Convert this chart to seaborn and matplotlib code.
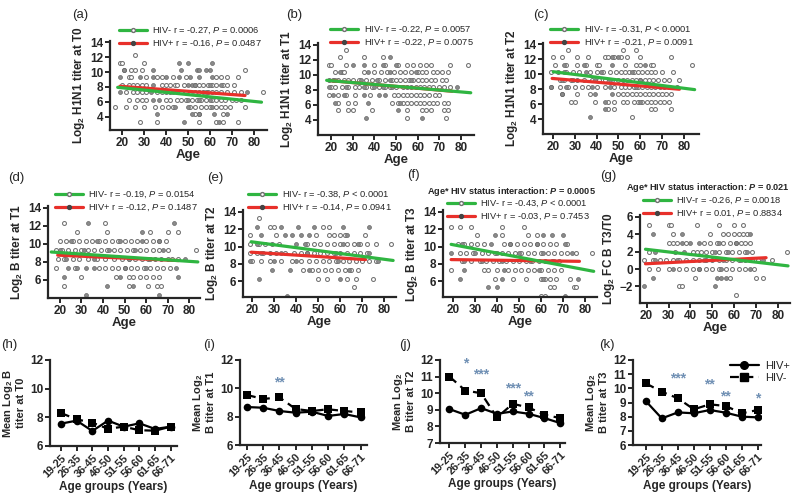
import numpy as np
import pandas as pd
import matplotlib
matplotlib.use("Agg")
import matplotlib.pyplot as plt
import seaborn as sns
from matplotlib.lines import Line2D

# ---------------- data: scatter panels (level -> list of ages) ----------------
a_neg = {12.3: [26], 11.3: [19, 20, 30], 10.3: [21, 24, 26, 29, 76],
         9.3: [23, 24, 31, 36, 38, 43, 49, 63, 65, 68, 73],
         8.3: [20, 23, 25, 27, 29, 31, 38, 40, 42, 44, 45, 48, 53, 55, 57, 59, 61, 63, 66, 68, 71],
         7.3: [22, 25, 27, 29, 31, 36, 38, 40, 42, 45, 47, 49, 51, 53, 55, 57, 59, 61, 63, 65, 68, 71, 74, 84],
         6.3: [23, 27, 29, 31, 40, 42, 45, 47, 49, 52, 54, 56, 58, 61, 63, 65, 67, 70, 72, 74],
         5.3: [17, 22, 26, 30, 35, 38, 41, 43, 51, 53, 56, 58, 60, 63, 65, 67, 69, 76],
         4.3: [53, 55, 66], 3.3: [28, 36, 55, 63, 66, 73]}
a_pos = {11.3: [46, 50, 61], 10.3: [21, 34, 47, 54, 55, 58, 60],
         9.3: [19, 28, 34, 40, 46, 51, 55, 61], 8.3: [34, 50, 52, 53, 60, 65],
         7.3: [19, 33, 43, 58, 77], 6.3: [34, 37, 50, 55, 60], 5.3: [44, 50, 61],
         4.3: [36, 52, 55, 62, 68], 3.3: [48, 64]}

b_neg = {13.3: [27], 12.3: [24, 35, 44],
         11.3: [19, 20, 27, 40, 45, 51, 55, 58, 61, 64, 66, 75, 83],
         10.3: [22, 25, 26, 35, 40, 43, 46, 49, 52, 54, 57, 60, 62, 64, 67, 69, 71, 74],
         9.3: [19, 21, 23, 26, 28, 30, 33, 36, 39, 42, 45, 48, 50, 52, 54, 56, 58, 60, 62, 64, 66, 68, 71, 73],
         8.3: [20, 22, 25, 28, 31, 33, 36, 39, 42, 45, 47, 50, 53, 55, 57, 59, 61, 63, 65, 67, 70, 72, 75],
         7.3: [19, 23, 27, 31, 38, 49, 51, 53, 55, 57, 59, 61, 63, 65, 68, 70],
         6.3: [23, 28, 31, 48, 51, 53, 55, 57, 59, 61, 63, 65, 67, 69, 72, 74],
         5.3: [23, 28, 30, 39, 55, 62, 64, 66, 72, 74], 4.3: [55, 73]}
b_pos = {12.3: [47], 11.3: [30, 35, 44, 50], 10.3: [24, 37, 47, 59],
         9.3: [22, 34, 41, 47, 57], 8.3: [19, 27, 35, 40, 44, 48, 78],
         7.3: [21, 26, 35, 42, 45], 6.3: [22, 37, 52], 5.3: [51], 4.3: [36, 62]}

c_neg = {13.3: [27, 52, 58], 12.3: [20, 24, 31, 36, 44, 45, 48, 51, 54, 60, 74],
         11.3: [21, 26, 31, 35, 40, 41, 53, 58, 60, 65, 66, 84],
         10.3: [19, 22, 26, 29, 32, 37, 40, 43, 46, 49, 51, 53, 55, 57, 59, 61, 63, 65, 67, 70, 75],
         9.3: [23, 25, 28, 31, 34, 38, 41, 44, 47, 50, 52, 54, 56, 58, 60, 62, 64, 66, 68, 71, 73, 78],
         8.3: [19, 23, 27, 30, 33, 36, 40, 44, 48, 51, 53, 55, 57, 59, 61, 63, 65, 67, 69, 71, 73, 77],
         7.3: [24, 31, 37, 50, 52, 54, 56, 58, 60, 62, 64, 66, 68, 70, 72, 74],
         6.3: [28, 30, 39, 45, 48, 52, 54, 57, 59, 61, 63, 65, 67, 69, 71, 73],
         5.3: [45, 48, 65, 67, 74], 4.3: [56]}
c_pos = {12.3: [47, 50], 11.3: [25, 34, 47, 62], 10.3: [25, 35, 42, 56],
         9.3: [24, 29, 39, 46, 60], 8.3: [19, 26, 38, 46, 58], 7.3: [24, 39, 47],
         6.3: [44, 60], 5.3: [44], 4.3: [37]}

d_neg = {12.3: [22, 41], 11.3: [28, 42, 62, 70, 75],
         10.3: [20, 23, 26, 29, 32, 35, 38, 41, 44, 47, 50, 53, 56, 60, 63, 66, 69],
         9.3: [18, 21, 24, 27, 30, 33, 36, 39, 42, 45, 48, 51, 54, 57, 60, 63, 66, 70, 83],
         8.3: [19, 22, 26, 29, 33, 37, 41, 45, 49, 52, 55, 58, 61, 64, 67, 70, 72, 75],
         7.3: [18, 27, 38, 41, 44, 47, 50, 53, 56, 59, 62, 65, 68, 71],
         6.3: [30, 46, 52, 54, 57, 60, 63, 66], 5.3: [22, 52, 61, 65, 67]}
d_pos = {12.3: [33, 73], 11.3: [58], 10.3: [25, 37, 48, 58, 66],
         9.3: [20, 31, 43, 55, 68], 8.3: [23, 36, 52, 62, 78],
         7.3: [24, 28, 32, 36, 50, 60, 74], 6.3: [22, 48, 75], 5.3: [42, 54], 4.3: [32, 66]}

e_neg = {13.3: [23], 12.3: [28, 30, 52, 55], 11.3: [19, 31, 49, 55, 57, 60, 62, 71],
         10.3: [19, 23, 26, 29, 32, 45, 48, 51, 54, 57, 60, 63, 66, 69, 72, 76, 83],
         9.3: [19, 22, 25, 28, 31, 35, 39, 42, 45, 48, 51, 54, 57, 60, 63, 66, 69, 72],
         8.3: [20, 24, 28, 33, 38, 42, 46, 49, 52, 55, 58, 61, 64, 67, 70, 73, 76],
         7.3: [43, 47, 50, 53, 56, 59, 62, 65, 68], 6.3: [50, 54, 63, 67, 75], 5.3: [66]}
e_pos = {12.3: [22, 33, 41, 48, 61, 73], 11.3: [24, 35, 38, 42, 46, 63],
         10.3: [22, 40, 44, 61, 68], 9.3: [24, 33, 45, 58, 73], 8.3: [19, 30, 40, 59, 77],
         7.3: [29, 37, 46, 64], 6.3: [23, 60], 4.3: [36]}

f_neg = {12.3: [19, 23, 28, 42, 52], 11.3: [31, 42, 54, 58],
         10.3: [22, 25, 28, 31, 34, 43, 46, 49, 52, 55, 58, 61, 64, 67, 72],
         9.3: [23, 26, 29, 33, 36, 39, 42, 45, 48, 51, 54, 57, 60, 63, 66, 69, 72, 76, 83],
         8.3: [24, 28, 32, 35, 38, 41, 44, 47, 50, 53, 56, 59, 62, 65, 68],
         7.3: [19, 34, 36, 40, 45, 48, 51, 54, 57, 60, 63, 66, 69],
         6.3: [39, 47, 53, 60, 62, 64, 67, 73], 5.3: [64, 66, 75, 76], 4.3: [60, 62]}
f_pos = {11.3: [39, 61, 65, 70], 10.3: [24, 37, 46, 58, 71], 9.3: [19, 30, 40, 50, 61, 74],
         8.3: [25, 33, 42, 55, 66], 7.3: [25, 43, 59], 6.3: [23, 42, 61, 77],
         5.3: [36, 40], 4.3: [71]}

g_neg = {5: [21, 30, 31, 43, 53, 60, 64], 4: [32, 49, 55, 57, 60, 62, 64, 66],
         3: [30, 32, 34, 38, 46, 49, 52, 55, 58, 61, 63, 65, 67],
         2: [21, 33, 41, 43, 45, 47, 50, 53, 56, 59, 62, 65, 68, 84],
         1: [19, 23, 26, 29, 32, 35, 38, 41, 44, 47, 50, 53, 56, 59, 62, 65, 68, 71, 77],
         0: [21, 25, 30, 35, 38, 41, 44, 47, 50, 53, 56, 59, 62, 65, 69],
         -1: [42, 58, 70, 73], -2: [35, 36], -3: [61]}
g_pos = {4: [23, 36, 67], 3: [36, 40, 44, 53, 61], 2: [24, 37, 51, 57, 66],
         1: [24, 34, 46, 55, 63, 73], 0: [32, 44, 54, 67], -1: [23, 52, 54, 56], -2: [19, 51]}

# regression line endpoints (age, value)
fit_neg_age = {"a": [18, 83.5], "b": [18, 84.5], "c": [20, 85], "d": [16, 84], "e": [19.5, 84], "f": [19, 84], "g": [19.5, 84.5]}
fit_neg_val = {"a": [7.95, 5.95], "b": [9.25, 7.6], "c": [10.35, 7.95], "d": [9.1, 8.0], "e": [10.55, 8.4], "f": [10.25, 7.15], "g": [2.27, 0.36]}
fit_pos_age = {"a": [19, 76], "b": [20, 76], "c": [19.5, 78], "d": [19, 75], "e": [19.5, 71.5], "f": [19, 77.5], "g": [19.5, 74.5]}
fit_pos_val = {"a": [8.1, 6.85], "b": [9.2, 7.8], "c": [9.45, 8.0], "d": [8.75, 8.15], "e": [9.35, 8.5], "f": [8.5, 8.3], "g": [0.6, 1.3]}

legend_neg = {"a": "HIV- r = -0.27, $P$ = 0.0006", "b": "HIV- r = -0.22, $P$ = 0.0057",
              "c": "HIV- r = -0.31, $P$ < 0.0001", "d": "HIV- r = -0.19, $P$ = 0.0154",
              "e": "HIV- r = -0.38, $P$ < 0.0001", "f": "HIV- r = -0.43, $P$ < 0.0001",
              "g": "HIV-r = -0.26, $P$ = 0.0018"}
legend_pos = {"a": "HIV+ r = -0.16, $P$ = 0.0487", "b": "HIV+ r = -0.22, $P$ = 0.0075",
              "c": "HIV+ r = -0.21, $P$ = 0.0091", "d": "HIV+ r = -0.12, $P$ = 0.1487",
              "e": "HIV+ r = -0.14, $P$ = 0.0941", "f": "HIV+ r = -0.03, $P$ = 0.7453",
              "g": "HIV+ r = 0.01, $P$ = 0.8834"}
interaction = {"f": r"Age* HIV status interaction: $\mathbfit{P}$ = 0.0005",
               "g": r"Age* HIV status interaction: $\mathbfit{P}$ = 0.021"}
ylabels_top = {"a": r"Log$_{\mathbf{2}}$ H1N1 titer at T0", "b": r"Log$_{\mathbf{2}}$ H1N1 titer at T1",
               "c": r"Log$_{\mathbf{2}}$ H1N1 titer at T2", "d": r"Log$_{\mathbf{2}}$ B titer at T1",
               "e": r"Log$_{\mathbf{2}}$ B titer at T2", "f": r"Log$_{\mathbf{2}}$ B titer at T3",
               "g": r"Log$_{\mathbf{2}}$ FC B T3/T0"}

# ---------------- data: age-group panels ----------------
age_groups = ["19-25", "26-35", "36-45", "46-50", "51-55", "56-60", "61-65", "66-71"]
h_pos = [7.56, 7.77, 7.05, 7.77, 7.35, 7.58, 7.19, 7.35]
h_neg = [8.3, 7.86, 7.63, 7.2, 7.35, 7.1, 7.07, 7.35]
i_pos = [8.68, 8.63, 8.4, 8.28, 8.35, 8.05, 8.19, 7.95]
i_neg = [9.53, 9.25, 9.36, 8.54, 8.4, 8.52, 8.4, 8.3]
j_pos = [9.04, 8.7, 9.1, 8.76, 8.9, 8.76, 8.5, 8.2]
j_neg = [11.0, 10.16, 10.0, 8.54, 9.36, 9.14, 8.7, 8.5]
k_pos = [9.1, 7.88, 8.3, 8.24, 8.47, 8.28, 8.0, 7.95]
k_neg = [10.35, 9.76, 9.3, 8.52, 8.87, 8.75, 8.24, 8.47]
stars = {"i": [(2, 10.4, "**")],
         "j": [(1, 11.8, "*"), (2, 11.1, "***"), (4, 10.3, "***"), (5, 9.8, "**")],
         "k": [(2, 10.7, "***"), (4, 10.25, "**"), (5, 9.45, "**"), (7, 9.3, "*")]}

# ---------------- style ----------------
sns.set_style("ticks")
plt.rcParams["font.family"] = ["Liberation Sans", "DejaVu Sans"]
plt.rcParams["mathtext.fontset"] = "custom"
plt.rcParams["mathtext.rm"] = "Liberation Sans"
plt.rcParams["mathtext.it"] = "Liberation Sans:italic"
plt.rcParams["mathtext.bf"] = "Liberation Sans:bold"
plt.rcParams["mathtext.bfit"] = "Liberation Sans:italic:bold"

GREEN = "#2fb541"
RED = "#e8302a"
STAR = "#7090b4"
W, H = 800, 495
fig = plt.figure(figsize=(8, 4.95), dpi=100)


def add_ax(l, r, t, b):
    return fig.add_axes([l / W, 1 - b / H, (r - l) / W, (b - t) / H])


def style_ax(ax):
    for s in ["left", "bottom"]:
        ax.spines[s].set_linewidth(1.6)
    sns.despine(ax=ax)
    ax.tick_params(width=1.4, length=3.5, labelsize=8.5, pad=1.5)
    for lab in ax.get_xticklabels() + ax.get_yticklabels():
        lab.set_fontweight("bold")


def long(d, grp):
    return pd.DataFrame([(a, lvl, grp) for lvl, ages in d.items() for a in ages],
                        columns=["age", "titer", "grp"])


scatter_specs = {
    "a": (a_neg, a_pos, (110, 267, 41, 130), (14.5, 86), (2.2, 14.2), [4, 6, 8, 10, 12, 14], (80, 15), (119, 26)),
    "b": (b_neg, b_pos, (318, 474, 43, 135), (14, 86), (2.0, 14.2), [4, 6, 8, 10, 12, 14], (294, 15), (330, 25)),
    "c": (c_neg, c_pos, (543, 699, 43, 134), (15.3, 87), (2.0, 14.2), [4, 6, 8, 10, 12, 14], (541, 15), (550, 25)),
    "d": (d_neg, d_pos, (48, 200, 206, 298), (14.5, 85), (4.0, 14.2), [6, 8, 10, 12, 14], (16, 178), (55, 190)),
    "e": (e_neg, e_pos, (243, 396, 210, 297), (15.8, 85.3), (4.2, 14.2), [6, 8, 10, 12, 14], (215, 178), (248, 190)),
    "f": (f_neg, f_pos, (443, 597, 210, 297), (15.3, 85.5), (4.2, 14.2), [6, 8, 10, 12, 14], (413, 175), (447, 199)),
    "g": (g_neg, g_pos, (640, 790, 215, 303), (17, 85.4), (-3.9, 6.2), [-2, 0, 2, 4, 6], (608, 176), (643, 196)),
}
title_pos = {"f": (511, 191), "g": (708, 188)}

for key, (neg, pos, box, xl, yl, yt, plab, legpos) in scatter_specs.items():
    ax = add_ax(*box)
    dneg = long(neg, "HIV-")
    dpos = long(pos, "HIV+")
    sns.scatterplot(data=dneg, x="age", y="titer", ax=ax, marker="o", s=8,
                    facecolor="white", edgecolor="#707070", linewidth=0.75, zorder=2)
    sns.scatterplot(data=dpos, x="age", y="titer", ax=ax, marker="o", s=8,
                    color="#8a8a8a", edgecolor="#666666", linewidth=0.5, zorder=2)
    fpos = pd.DataFrame({"age": fit_pos_age[key], "v": fit_pos_val[key]})
    fneg = pd.DataFrame({"age": fit_neg_age[key], "v": fit_neg_val[key]})
    sns.lineplot(data=fpos, x="age", y="v", ax=ax, color=RED, lw=2.3, zorder=3)
    sns.lineplot(data=fneg, x="age", y="v", ax=ax, color=GREEN, lw=2.3, zorder=4)
    ax.set_xlim(*xl)
    ax.set_ylim(*yl)
    ax.set_xticks([20, 30, 40, 50, 60, 70, 80])
    ax.set_yticks(yt)
    ax.set_xlabel("Age", fontsize=9.5, fontweight="bold", labelpad=0)
    ax.set_ylabel(ylabels_top[key], fontsize=8.5, fontweight="bold", labelpad=2)
    style_ax(ax)
    fig.text(plab[0] / W, 1 - plab[1] / H, "(%s)" % key, fontsize=9.5, ha="center", va="center")
    handles = [Line2D([], [], color=GREEN, lw=2.3, marker="o", ms=2.8, mfc="white", mec="#707070"),
               Line2D([], [], color=RED, lw=2.3, marker="o", ms=2.8, mfc="#444444", mec="#444444")]
    ax.legend(handles, [legend_neg[key], legend_pos[key]], loc="upper left",
              bbox_to_anchor=(legpos[0] / W, 1 - legpos[1] / H),
              bbox_transform=fig.transFigure, frameon=False, fontsize=6.7,
              handlelength=3.0, handletextpad=0.6, labelspacing=0.25, borderpad=0,
              borderaxespad=0, numpoints=1)
    if key in interaction:
        tp = title_pos[key]
        fig.text(tp[0] / W, 1 - tp[1] / H, interaction[key], fontsize=6.6,
                 fontweight="bold", ha="center", va="center")

# ---------------- age-group panels ----------------
line_specs = {
    "h": (h_pos, h_neg, (50, 177, 360, 446), (-0.7, 7.4), (6, 12), [6, 8, 10, 12],
          "Mean Log$_{\\mathbf{2}}$ B\ntiter at T0", (9, 345)),
    "i": (i_pos, i_neg, (240, 367, 360, 445), (-0.43, 7.4), (6, 12), [6, 8, 10, 12],
          "Mean Log$_{\\mathbf{2}}$\nB titer at T1", (209, 345)),
    "j": (j_pos, j_neg, (440, 565, 360, 443), (-0.6, 7.3), (7, 12), [7, 8, 9, 10, 11, 12],
          "Mean Log$_{\\mathbf{2}}$\nB titer at T2", (405, 345)),
    "k": (k_pos, k_neg, (633, 761, 360, 445), (-0.8, 7.2), (6, 12), [6, 7, 8, 9, 10, 11, 12],
          "Mean Log$_{\\mathbf{2}}$\nB titer at T3", (607, 345)),
}

for key, (pos, neg, box, xl, yl, yt, ylab, plab) in line_specs.items():
    ax = add_ax(*box)
    x = np.arange(len(age_groups))
    sns.lineplot(x=x, y=neg, ax=ax, color="black", lw=1.6, marker="s", ms=5.5,
                 markeredgewidth=0, linestyle=(0, (4, 2.5)), zorder=3)
    sns.lineplot(x=x, y=pos, ax=ax, color="black", lw=1.6, marker="o", ms=5.5,
                 markeredgewidth=0, zorder=4)
    ax.set_xlim(*xl)
    ax.set_ylim(*yl)
    ax.set_yticks(yt)
    ax.set_xticks(x)
    ax.set_xticklabels(age_groups)
    ax.set_xlabel("Age groups (Years)", fontsize=8.5, fontweight="bold", labelpad=1)
    ax.set_ylabel(ylab, fontsize=8, fontweight="bold", labelpad=3, linespacing=1.1)
    style_ax(ax)
    for lab in ax.get_xticklabels():
        lab.set_rotation(45)
        lab.set_ha("right")
        lab.set_rotation_mode("anchor")
        lab.set_fontsize(7.8)
    for (sx, sy, st) in stars.get(key, []):
        ax.text(sx, sy, st, color=STAR, fontsize=10, fontweight="bold", ha="center", va="center")
    fig.text(plab[0] / W, 1 - plab[1] / H, "(%s)" % key, fontsize=9.5, ha="center", va="center")
    if key == "k":
        handles = [Line2D([], [], color="black", lw=1.6, marker="o", ms=5.5),
                   Line2D([], [], color="black", lw=1.6, marker="s", ms=5.5, linestyle=(0, (4, 2.5)))]
        ax.legend(handles, ["HIV+", "HIV-"], loc="upper left",
                  bbox_to_anchor=(730 / W, 1 - 361 / H), bbox_transform=fig.transFigure,
                  frameon=False, fontsize=8, handlelength=2.6, handletextpad=0.6,
                  labelspacing=0.2, borderpad=0, borderaxespad=0)

fig.savefig("out.png", dpi=100)
